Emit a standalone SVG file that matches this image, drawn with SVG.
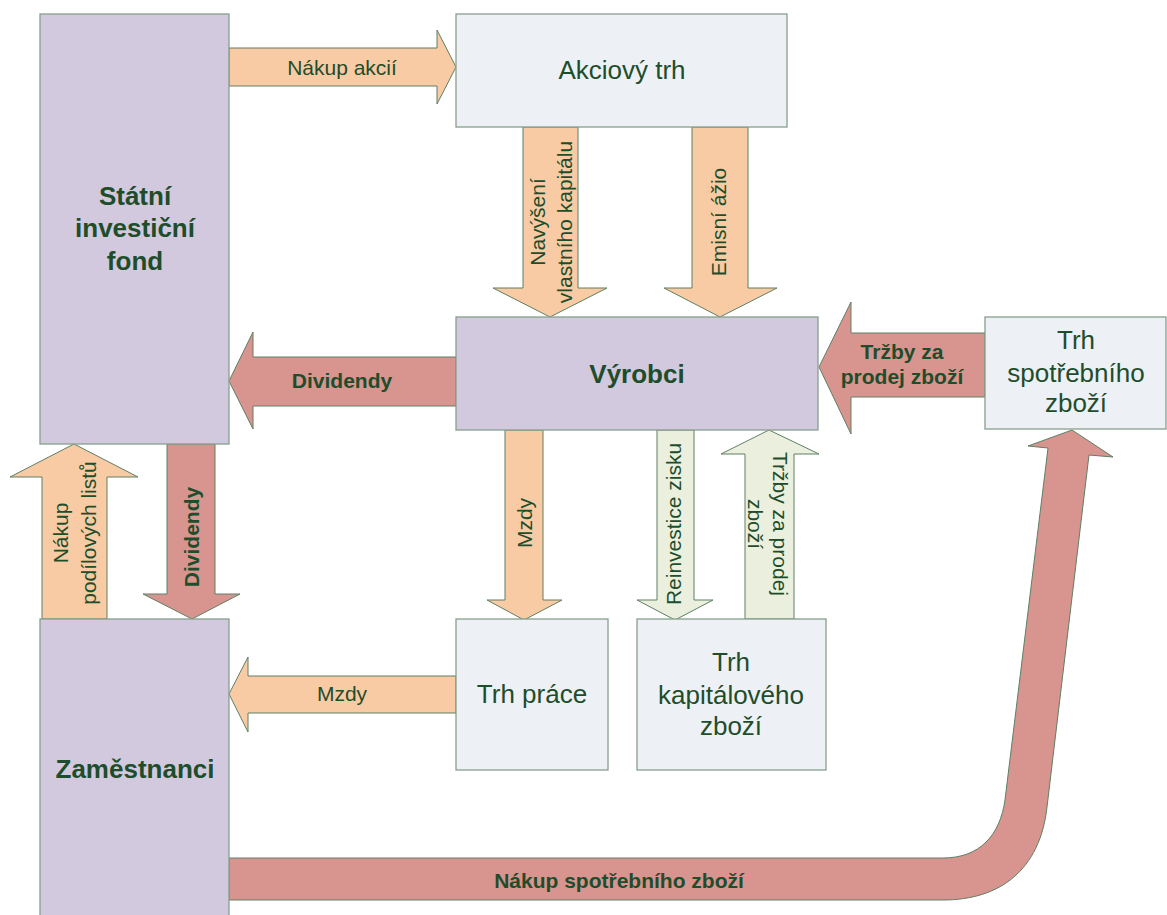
<svg xmlns="http://www.w3.org/2000/svg" width="1167" height="915" viewBox="0 0 1167 915">
  <style>
    .node-main { fill: #D2C9DE; stroke: #879F8C; stroke-width: 1.3; }
    .node-market { fill: #EDF0F5; stroke: #879F8C; stroke-width: 1.3; }
    .flow { stroke: #5E7F64; stroke-width: 1; stroke-linejoin: miter; }
    .peach { fill: #F8CBA4; }
    .rose { fill: #D8948F; }
    .sage { fill: #EBF0DE; }
    text { font-family: "Liberation Sans", Arial, sans-serif; fill: #1E4D2B; text-anchor: middle; }
    .title { font-size: 26px; }
    .bold { font-weight: bold; }
    .lbl { font-size: 21px; }
  </style>

  <!-- flows between the sectors -->
  <g id="connectors">
    <!-- purchase of shares -->
    <path class="flow peach" d="M229,48 H437 V30 L456,67 L437,104 V86 H229 Z"/>
    <!-- capital increase -->
    <path class="flow peach" d="M523,127 V288 H493 L550,317 L607,288 H578 V127 Z"/>
    <!-- share premium -->
    <path class="flow peach" d="M692,127 V288 H664 L720,317 L777,288 H748 V127 Z"/>
    <!-- dividends to fund -->
    <path class="flow rose" d="M456,357 H253 V332 L229,381 L253,429 V406 H456 Z"/>
    <!-- sales revenue from consumer goods -->
    <path class="flow rose" d="M985,333 H851 V302 L819,367 L851,434 V397 H985 Z"/>
    <!-- purchase of fund units -->
    <path class="flow peach" d="M42,619 V477 H10 L74,444 L138,477 H107 V619 Z"/>
    <!-- dividends to employees -->
    <path class="flow rose" d="M167,444 V594 H143 L192,619 L240,594 H215 V444 Z"/>
    <!-- wages to labour market -->
    <path class="flow peach" d="M505,430 V600 H487 L524,620 L562,600 H543 V430 Z"/>
    <!-- profit reinvestment -->
    <path class="flow sage" d="M657,430 V600 H637 L675,620 L713,600 H694 V430 Z"/>
    <!-- sales revenue from capital goods -->
    <path class="flow sage" d="M745,619 V454 H721 L769,430 L819,454 H794 V619 Z"/>
    <!-- wages to employees -->
    <path class="flow peach" d="M456,676 H248 V657 L229,694 L248,732 V713 H456 Z"/>
    <!-- purchase of consumer goods -->
    <path class="flow rose" d="M229,858 H943 C980,858 1000,835 1005,800 L1048,448 L1028,446 L1072,430 L1113,457 L1089,455 L1047,807 C1040,870 1000,900 943,900 H229 Z"/>

    <text class="lbl" x="342" y="75">Nákup akcií</text>
    <text class="lbl bold" x="342" y="388">Dividendy</text>
    <text class="lbl bold" x="902" y="359">Tržby za</text>
    <text class="lbl bold" x="902" y="384">prodej zboží</text>
    <text class="lbl" x="342" y="701">Mzdy</text>
    <text class="lbl bold" x="619" y="888">Nákup spotřebního zboží</text>

    <g transform="translate(550,222) rotate(-90)">
      <text class="lbl" x="0" y="-5.5">Navýšení</text>
      <text class="lbl" x="0" y="21.5">vlastního kapitálu</text>
    </g>
    <g transform="translate(718,222) rotate(-90)">
      <text class="lbl" x="0" y="7.5">Emisní ážio</text>
    </g>
    <g transform="translate(74,533) rotate(-90)">
      <text class="lbl" x="0" y="-6.5">Nákup</text>
      <text class="lbl" x="0" y="21.5">podílových listů</text>
    </g>
    <g transform="translate(191,537) rotate(-90)">
      <text class="lbl bold" x="0" y="7.5">Dividendy</text>
    </g>
    <g transform="translate(524,523) rotate(-90)">
      <text class="lbl" x="0" y="7.5">Mzdy</text>
    </g>
    <g transform="translate(673,524) rotate(-90)">
      <text class="lbl" x="0" y="7.5">Reinvestice zisku</text>
    </g>
    <g transform="translate(768,524) rotate(90)">
      <text class="lbl" x="0" y="-4.5">Tržby za prodej</text>
      <text class="lbl" x="0" y="20.5">zboží</text>
    </g>
  </g>

  <g id="statni-investicni-fond">
    <rect class="node-main" x="40" y="14" width="189" height="430"/>
    <text class="title bold" x="135" y="205">Státní</text>
    <text class="title bold" x="135" y="237">investiční</text>
    <text class="title bold" x="135" y="270">fond</text>
  </g>

  <g id="akciovy-trh">
    <rect class="node-market" x="456" y="14" width="331" height="113"/>
    <text class="title" x="622" y="79">Akciový trh</text>
  </g>

  <g id="vyrobci">
    <rect class="node-main" x="456" y="317" width="362" height="113"/>
    <text class="title bold" x="637" y="383">Výrobci</text>
  </g>

  <g id="trh-spotrebniho-zbozi">
    <rect class="node-market" x="985" y="317" width="181" height="112"/>
    <text class="title" x="1076" y="349">Trh</text>
    <text class="title" x="1076" y="382">spotřebního</text>
    <text class="title" x="1076" y="412">zboží</text>
  </g>

  <g id="zamestnanci">
    <rect class="node-main" x="40" y="619" width="189" height="310"/>
    <text class="title bold" x="135" y="778">Zaměstnanci</text>
  </g>

  <g id="trh-prace">
    <rect class="node-market" x="456" y="619" width="152" height="151"/>
    <text class="title" x="532" y="703">Trh práce</text>
  </g>

  <g id="trh-kapitaloveho-zbozi">
    <rect class="node-market" x="637" y="619" width="189" height="151"/>
    <text class="title" x="731" y="671">Trh</text>
    <text class="title" x="731" y="704">kapitálového</text>
    <text class="title" x="731" y="735">zboží</text>
  </g>
</svg>
